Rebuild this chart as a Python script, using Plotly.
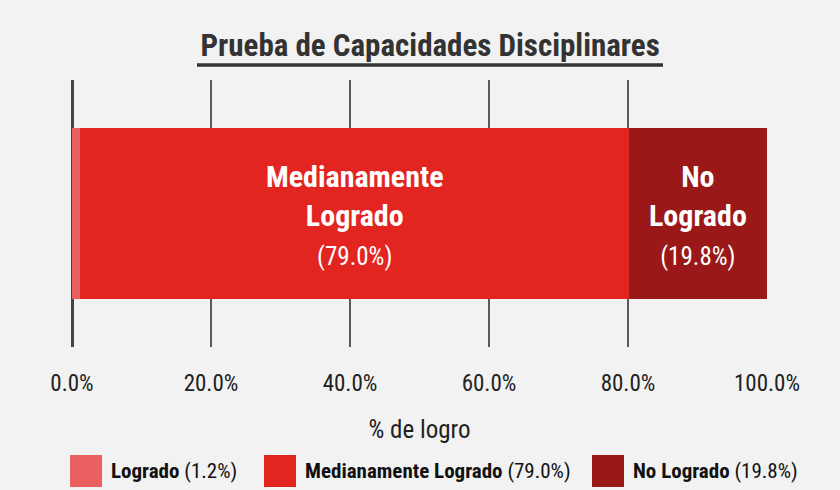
import plotly.graph_objects as go

categories = ["Logrado", "Medianamente Logrado", "No Logrado"]
values = [1.2, 79.0, 19.8]
colors = ["#ea5f5f", "#e32521", "#9a1818"]
tick_vals = [0, 20, 40, 60, 80, 100]
tick_text = ["0.0%", "20.0%", "40.0%", "60.0%", "80.0%", "100.0%"]
inner_labels = ["", "<b>Medianamente<br>Logrado</b>", "<b>No<br>Logrado</b>"]

FONT = "Liberation Sans Narrow, Roboto Condensed, Roboto, sans-serif"

# plot area in pixels
L, R, T, B = 72, 767, 80, 347
def px2x(px):
    return (px - L) / (R - L)
def px2y(py):
    return (B - py) / (B - T)

fig = go.Figure()
for cat, val, col in zip(categories, values, colors):
    fig.add_trace(go.Bar(
        x=[val], y=["Prueba"], orientation="h",
        name=f"<b>{cat}</b> ({val:.1f}%)",
        marker=dict(color=col, line=dict(width=0)),
        hoverinfo="skip", showlegend=False,
    ))

cum = 0
for cat, val, lab in zip(categories, values, inner_labels):
    center = cum + val / 2
    cum += val
    if lab:
        fig.add_annotation(
            x=center, y="Prueba", xref="x", yref="y", yshift=-1,
            text=f"{lab}<br><span style='font-size:25px'>({val:.1f}%)</span>",
            showarrow=False, font=dict(family=FONT, size=30, color="white"),
            align="center",
        )

# custom legend (large square swatches)
legend_sq_x = [70, 264, 592]
for cat, val, col, sx in zip(categories, values, colors, legend_sq_x):
    fig.add_shape(type="rect", xref="paper", yref="paper",
                  x0=px2x(sx), x1=px2x(sx + 32), y0=px2y(455), y1=px2y(487),
                  fillcolor=col, line=dict(width=0), layer="above")
    fig.add_annotation(x=px2x(sx + 39), y=px2y(471), xref="paper", yref="paper",
                       xanchor="left", yanchor="middle", showarrow=False,
                       text=f"<b>{cat}</b> ({val:.1f}%)",
                       font=dict(family=FONT, size=21, color="#111"))

fig.update_layout(
    barmode="stack",
    width=840, height=490,
    paper_bgcolor="#f2f2f2", plot_bgcolor="#f2f2f2",
    margin=dict(l=L, r=840 - R, t=T, b=490 - B),
    bargap=0.36,
    font=dict(family=FONT, size=20, color="#222"),
    title=dict(text="<b>Prueba de Capacidades Disciplinares</b>", x=0.512, xanchor="center",
               y=1 - 45 / 490, yanchor="middle", yref="container",
               font=dict(family=FONT, size=31, color="#333")),
    xaxis=dict(range=[0, 100], tickvals=tick_vals, ticktext=tick_text,
               showgrid=True, gridcolor="#5a5a5a", gridwidth=2,
               zeroline=True, zerolinecolor="#444", zerolinewidth=3,
               ticks="outside", ticklen=15, tickcolor="#f2f2f2",
               tickfont=dict(family=FONT, size=23, color="#222"),
               title=dict(text="% de logro", standoff=24, font=dict(family=FONT, size=25, color="#222")),
               fixedrange=True),
    yaxis=dict(visible=False, fixedrange=True),
    showlegend=False,
)

fig.add_shape(type="line", xref="paper", yref="paper", x0=px2x(197), x1=px2x(663),
              y0=px2y(65), y1=px2y(65), line=dict(color="#333", width=3.5))

fig.write_html("out.html", config={"displayModeBar": False},
               post_script="document.body.style.margin='0';document.body.style.padding='0';")
